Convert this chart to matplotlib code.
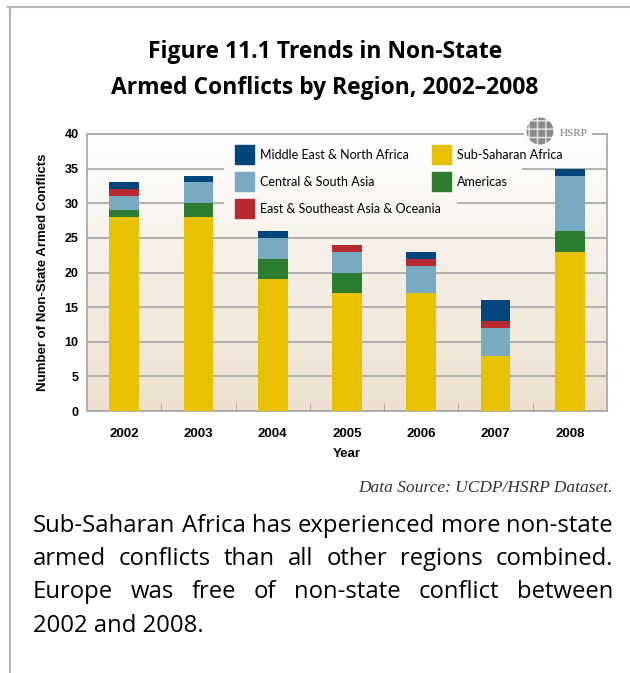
import numpy as np
import matplotlib.pyplot as plt
from matplotlib.patches import Patch, Ellipse
from matplotlib.lines import Line2D
from matplotlib.colors import LinearSegmentedColormap

# data (number of non-state conflicts)
years = ['2002', '2003', '2004', '2005', '2006', '2007', '2008']
sub_saharan = [28, 28, 19, 17, 17, 8, 23]
americas = [1, 2, 3, 3, 0, 0, 3]
central_south_asia = [2, 3, 3, 3, 4, 4, 8]
east_se_asia = [1, 0, 0, 1, 1, 1, 0]
middle_east = [1, 1, 1, 0, 1, 3, 1]

title = 'Figure 11.1 Trends in Non-State\nArmed Conflicts by Region, 2002\u20132008'
source = 'Data Source: UCDP/HSRP Dataset.'
paragraph = ['Sub-Saharan Africa has experienced more non-state',
             'armed conflicts than all other regions combined.',
             'Europe was free of non-state conflict between',
             '2002 and 2008.']

col_yellow = '#E8C200'
col_green = '#2C7D30'
col_light = '#7AAAC2'
col_red = '#B82A31'
col_navy = '#00457C'
grey = '#a6a6a6'

W, H = 630, 673
fig = plt.figure(figsize=(W / 100, H / 100), dpi=100)


def fx(x):
    return x / W


def fy(y):
    return 1 - y / H


# outer frame (top and left edges)
fig.add_artist(Line2D([fx(8), 1], [fy(7), fy(7)], color='#b5b5b5', lw=1.5))
fig.add_artist(Line2D([fx(10), fx(10)], [fy(7), 0], color='#b5b5b5', lw=1.5))

fig.text(fx(325), fy(70), title, ha='center', va='center', fontsize=16.5,
         fontweight='bold', family='Open Sans', linespacing=1.68)

ax = fig.add_axes([fx(87), fy(411), fx(607) - fx(87), fy(134) - fy(411)])

# beige gradient background
cmap = LinearSegmentedColormap.from_list('bg', ['#EDE0CF', '#F5EEE5', '#FFFFFF'])
ax.imshow(np.linspace(0, 1, 256).reshape(-1, 1), extent=[-0.5, 6.5, 0, 40],
          aspect='auto', cmap=cmap, vmin=0, vmax=1, origin='lower', zorder=-2)

x = np.arange(len(years))
w = 0.4
bottom = np.zeros(len(years))
series = [(sub_saharan, col_yellow), (americas, col_green),
          (central_south_asia, col_light), (east_se_asia, col_red),
          (middle_east, col_navy)]
for vals, c in series:
    ax.bar(x, vals, w, bottom=bottom, color=c, zorder=3)
    bottom += np.array(vals)

# same gradient laid over the gridlines behind the legend
for (x0, y0, x1, y1) in [(224, 138, 457, 222), (457, 138, 522, 196)]:
    dx0 = -0.5 + (x0 - 87) / 520 * 7
    dx1 = -0.5 + (x1 - 87) / 520 * 7
    dy0 = (411 - y1) / 277 * 40
    dy1 = (411 - y0) / 277 * 40
    ax.imshow(np.linspace(dy0 / 40, dy1 / 40, 64).reshape(-1, 1),
              extent=[dx0, dx1, dy0, dy1], aspect='auto', cmap=cmap,
              vmin=0, vmax=1, origin='lower', zorder=1)

ax.set_xlim(-0.5, 6.5)
ax.set_ylim(0, 40)
ax.set_yticks(range(0, 41, 5))
ax.yaxis.grid(True, color=grey, lw=1.2)
ax.set_axisbelow(True)
ax.set_xticks(x)
ax.set_xticklabels(years, fontsize=9.5, fontweight='bold', family='Liberation Sans')
ax.set_xticks(x[:-1] + 0.5, minor=True)
ax.tick_params(axis='x', which='major', length=0, pad=12)
ax.tick_params(axis='x', which='minor', length=6, direction='in', color=grey)
ax.tick_params(axis='y', length=0, pad=6)
for lab in ax.get_yticklabels():
    lab.set_fontsize(9)
    lab.set_fontweight('bold')
    lab.set_family('Liberation Sans')
for s in ax.spines.values():
    s.set_color(grey)
    s.set_linewidth(1.2)

ax.set_xlabel('Year', fontsize=9.5, fontweight='bold', family='Liberation Sans', labelpad=6)
ax.set_ylabel('Number of Non-State Armed Conflicts', fontsize=9.5, fontweight='bold',
              family='Liberation Sans', labelpad=11)

# legend in two hand placed columns
h1 = [Patch(color=col_navy, label='Middle East & North Africa'),
      Patch(color=col_light, label='Central & South Asia'),
      Patch(color=col_red, label='East & Southeast Asia & Oceania')]
h2 = [Patch(color=col_yellow, label='Sub-Saharan Africa'),
      Patch(color=col_green, label='Americas')]
leg_kw = dict(loc='upper left', frameon=False, prop={'family': 'Lato', 'size': 9},
              handlelength=1.52, handleheight=1.96, handletextpad=0.45,
              labelspacing=0.65, borderpad=0.5, borderaxespad=0,
              bbox_transform=fig.transFigure)
leg1 = ax.legend(handles=h1, bbox_to_anchor=(fx(229), fy(139)), **leg_kw)
ax.add_artist(leg1)
leg2 = ax.legend(handles=h2, bbox_to_anchor=(fx(426), fy(139)), **leg_kw)

# HSRP logo on the top edge
fig.text(fx(574), fy(133), 'HSRP', ha='center', va='center', fontsize=8,
         family='Liberation Serif', color='#777777',
         bbox=dict(facecolor='white', edgecolor='none', pad=3), zorder=5)
fig.add_artist(Ellipse((fx(540), fy(131)), 28 / W, 28 / H, facecolor='#8a8a8a',
                       edgecolor='#e8e8e8', hatch='++', lw=0.3, zorder=6))
fig.add_artist(Ellipse((fx(540), fy(131)), 30 / W, 30 / H, facecolor='none',
                       edgecolor='white', lw=2, zorder=7))

fig.text(fx(613), fy(488), source, ha='right', va='center', fontsize=12.5,
         style='italic', family='Liberation Serif', color='#333333')

# justified paragraph; font size chosen so the first line fills the width
renderer = fig.canvas.get_renderer()
left, right = 33, 613
probe = fig.text(0, 0, paragraph[0], fontsize=15, family='Open Sans')
size = 15 * (right - left) / probe.get_window_extent(renderer).width
probe.remove()
baselines = [532, 565, 598, 632]
for i, line in enumerate(paragraph):
    words = line.split(' ')
    if i == len(paragraph) - 1:
        fig.text(fx(left), fy(baselines[i]), line, ha='left', va='baseline',
                 fontsize=size, family='Open Sans')
        continue
    arts = [fig.text(0, fy(baselines[i]), wd, ha='left', va='baseline',
                     fontsize=size, family='Open Sans') for wd in words]
    widths = [a.get_window_extent(renderer).width for a in arts]
    gap = (right - left - sum(widths)) / (len(words) - 1)
    pos = left
    for a, wd in zip(arts, widths):
        a.set_x(fx(pos))
        pos += wd + gap

fig.savefig('out.png', dpi=100)
